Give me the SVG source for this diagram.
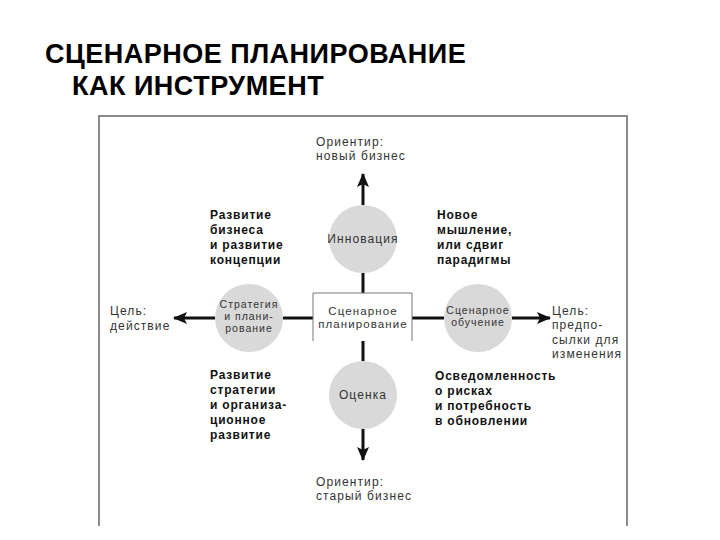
<svg xmlns="http://www.w3.org/2000/svg" width="720" height="540" viewBox="0 0 720 540">
<style>
.title{font-family:"Liberation Sans",Arial,sans-serif;font-weight:bold;font-size:27px;letter-spacing:0.5px;fill:#000}
.lbl{font-family:"Liberation Sans",Arial,sans-serif;font-size:12px;letter-spacing:1.1px;fill:#333}
.sm{font-size:10.5px;letter-spacing:1px}
.mid{font-size:11.5px}
.ctr{text-anchor:middle}
.bold{font-family:"Liberation Sans",Arial,sans-serif;font-size:12px;font-weight:bold;letter-spacing:0.8px;fill:#111}
.circ{fill:#d9d9d9}
.ax{stroke:#111;stroke-width:3;fill:none}
.arr{stroke:#111;stroke-width:3;fill:none;marker-end:url(#ah)}
</style>
<defs>
<marker id="ah" markerUnits="userSpaceOnUse" markerWidth="14" markerHeight="12" refX="13" refY="6" orient="auto">
<path d="M0,0 L14,6 L0,12 L3,6 z" fill="#111"/>
</marker>
</defs>
<rect width="720" height="540" fill="#fff"/>
<g id="title">
<text class="title" x="45" y="63">СЦЕНАРНОЕ ПЛАНИРОВАНИЕ</text>
<text class="title" x="72" y="95">КАК ИНСТРУМЕНТ</text>
</g>
<g id="frame">
<path d="M99,526 V116 H627 V526" fill="none" stroke="#8c8c8c" stroke-width="2"/>
</g>
<g id="connectors">
<line class="arr" x1="363" y1="205" x2="363" y2="174"/>
<line class="ax" x1="363" y1="273" x2="363" y2="293"/>
<line class="ax" x1="363" y1="341" x2="363" y2="361"/>
<line class="arr" x1="363" y1="429" x2="363" y2="460"/>
<line class="ax" x1="313" y1="318" x2="283" y2="318"/>
<line class="arr" x1="215" y1="318" x2="174" y2="318"/>
<line class="ax" x1="412" y1="318" x2="444" y2="318"/>
<line class="arr" x1="512" y1="318" x2="550" y2="318"/>
</g>
<g id="center">
<rect x="313" y="293" width="99" height="48" fill="#fff"/>
<path d="M313,341 V293 H412 V341" fill="none" stroke="#777" stroke-width="1"/>
<text class="lbl mid ctr" x="363" y="315">Сценарное</text>
<text class="lbl mid ctr" x="363" y="328">планирование</text>
</g>
<g id="innovation">
<circle class="circ" cx="363" cy="239" r="34"/>
<text class="lbl ctr" x="363" y="243">Инновация</text>
</g>
<g id="strategy">
<circle class="circ" cx="249" cy="318" r="34"/>
<text class="lbl sm ctr" x="249" y="308">Стратегия</text>
<text class="lbl sm ctr" x="249" y="320">и плани-</text>
<text class="lbl sm ctr" x="249" y="332">рование</text>
</g>
<g id="learning">
<circle class="circ" cx="478" cy="318" r="34"/>
<text class="lbl sm ctr" x="478" y="314">Сценарное</text>
<text class="lbl sm ctr" x="478" y="326">обучение</text>
</g>
<g id="assessment">
<circle class="circ" cx="363" cy="395" r="34"/>
<text class="lbl ctr" x="363" y="399">Оценка</text>
</g>
<g id="top-label">
<text class="lbl" x="316" y="146">Ориентир:</text>
<text class="lbl" x="316" y="160">новый бизнес</text>
</g>
<g id="bottom-label">
<text class="lbl" x="316" y="486">Ориентир:</text>
<text class="lbl" x="316" y="500">старый бизнес</text>
</g>
<g id="left-label">
<text class="lbl" x="110" y="315">Цель:</text>
<text class="lbl" x="110" y="330">действие</text>
</g>
<g id="right-label">
<text class="lbl" x="552" y="315">Цель:</text>
<text class="lbl" x="552" y="329">предпо-</text>
<text class="lbl" x="552" y="344">сылки для</text>
<text class="lbl" x="552" y="358">изменения</text>
</g>
<g id="quad-tl">
<text class="bold" x="210" y="219">Развитие</text>
<text class="bold" x="210" y="234">бизнеса</text>
<text class="bold" x="210" y="249">и развитие</text>
<text class="bold" x="210" y="264">концепции</text>
</g>
<g id="quad-tr">
<text class="bold" x="437" y="219">Новое</text>
<text class="bold" x="437" y="234">мышление,</text>
<text class="bold" x="437" y="249">или сдвиг</text>
<text class="bold" x="437" y="264">парадигмы</text>
</g>
<g id="quad-bl">
<text class="bold" x="210" y="379">Развитие</text>
<text class="bold" x="210" y="394">стратегии</text>
<text class="bold" x="210" y="409">и организа-</text>
<text class="bold" x="210" y="424">ционное</text>
<text class="bold" x="210" y="439">развитие</text>
</g>
<g id="quad-br">
<text class="bold" x="435" y="380">Осведомленность</text>
<text class="bold" x="435" y="395">о рисках</text>
<text class="bold" x="435" y="410">и потребность</text>
<text class="bold" x="435" y="425">в обновлении</text>
</g>
</svg>
